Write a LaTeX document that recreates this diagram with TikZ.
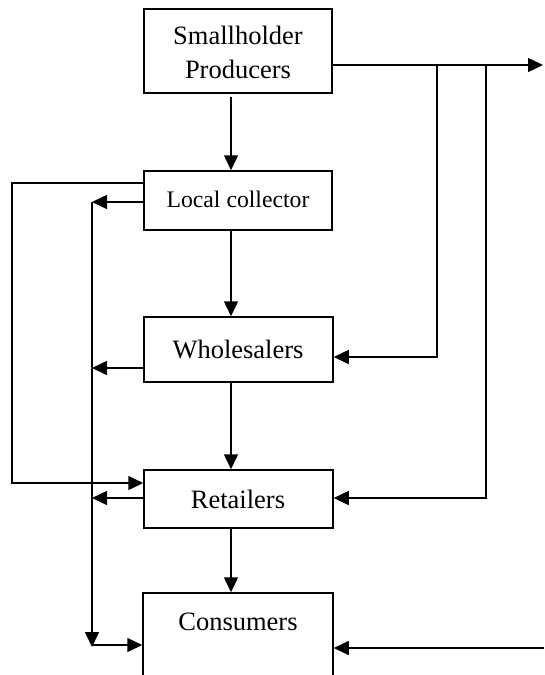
\documentclass[tikz,border=0pt]{standalone}
\usepackage{fontspec}
\setmainfont{Liberation Serif}
\usetikzlibrary{arrows.meta}
\begin{document}
\begin{tikzpicture}[x=1pt,y=-1pt,
  line width=1.5pt,
  tip/.style={-{Triangle[length=15pt,width=14pt]}},
  boxnode/.style={draw,line width=1.5pt,inner sep=0pt,rectangle},
  bigtext/.style={font=\fontsize{26.5}{34}\selectfont,align=center,inner sep=0pt},
  smalltext/.style={font=\fontsize{23.7}{30}\selectfont,inner sep=0pt}]
\useasboundingbox (0,0) rectangle (544,675);
\clip (0,0) rectangle (544,675);
% boxes
\node[boxnode,minimum width=188pt,minimum height=84pt] (sp) at (238,51) {};
\node[bigtext] (sptext) at (238,52) {Smallholder\\Producers};
\node[boxnode,minimum width=188pt,minimum height=59pt] (lc) at (238,200.5) {};
\node[smalltext] (lctext) at (238,199) {Local collector};
\node[boxnode,minimum width=189pt,minimum height=65pt] (wh) at (238.5,349.5) {};
\node[bigtext] (whtext) at (238,350) {Wholesalers};
\node[boxnode,minimum width=189pt,minimum height=58pt] (rt) at (238.5,499) {};
\node[bigtext] (rttext) at (238,499) {Retailers};
\node[boxnode,minimum width=190pt,minimum height=120pt] (cs) at (238,653) {};
\node[bigtext] (cstext) at (238,622) {Consumers};
% named coordinates
\coordinate (spo) at (231,97);
\coordinate (lcb) at (231,230);
\coordinate (whb) at (231,382);
\coordinate (rtb) at (231,528);
\coordinate (L1) at (12,183);
\coordinate (L2) at (12,483);
\coordinate (M1) at (92,202);
\coordinate (M2) at (92,647);
\coordinate (M3) at (92,645);
\coordinate (R0) at (332,65);
\coordinate (Rend) at (543,65);
\coordinate (R1) at (437,65);
\coordinate (R2) at (486,65);
\coordinate (Rc) at (544,648);
% central chain
\draw[tip] (spo) -- (spo |- lc.north);
\draw[tip] (lcb) -- (lcb |- wh.north);
\draw[tip] (whb) -- (whb |- rt.north);
\draw[tip] (rtb) -- (rtb |- cs.north);
% left side
\draw[tip] (lc.west |- L1) -- (L1) -- (L2) -- (rt.west |- L2);
\draw[tip] (lc.west |- M1) -- (M1);
\draw[tip] (wh.west |- 0,368) -- (92,368);
\draw[tip] (rt.west |- 0,498) -- (92,498);
\draw[tip] (M1) -- (M2);
\draw[tip] (M3) -- (cs.west |- M3);
% right side
\draw[tip] (R0) -- (Rend);
\draw[tip] (R1) -- (R1 |- 0,357) -- (wh.east |- 0,357);
\draw[tip] (R2) -- (R2 |- 0,498) -- (rt.east |- 0,498);
\draw[tip] (Rc) -- (cs.east |- Rc);
\end{tikzpicture}
\end{document}
